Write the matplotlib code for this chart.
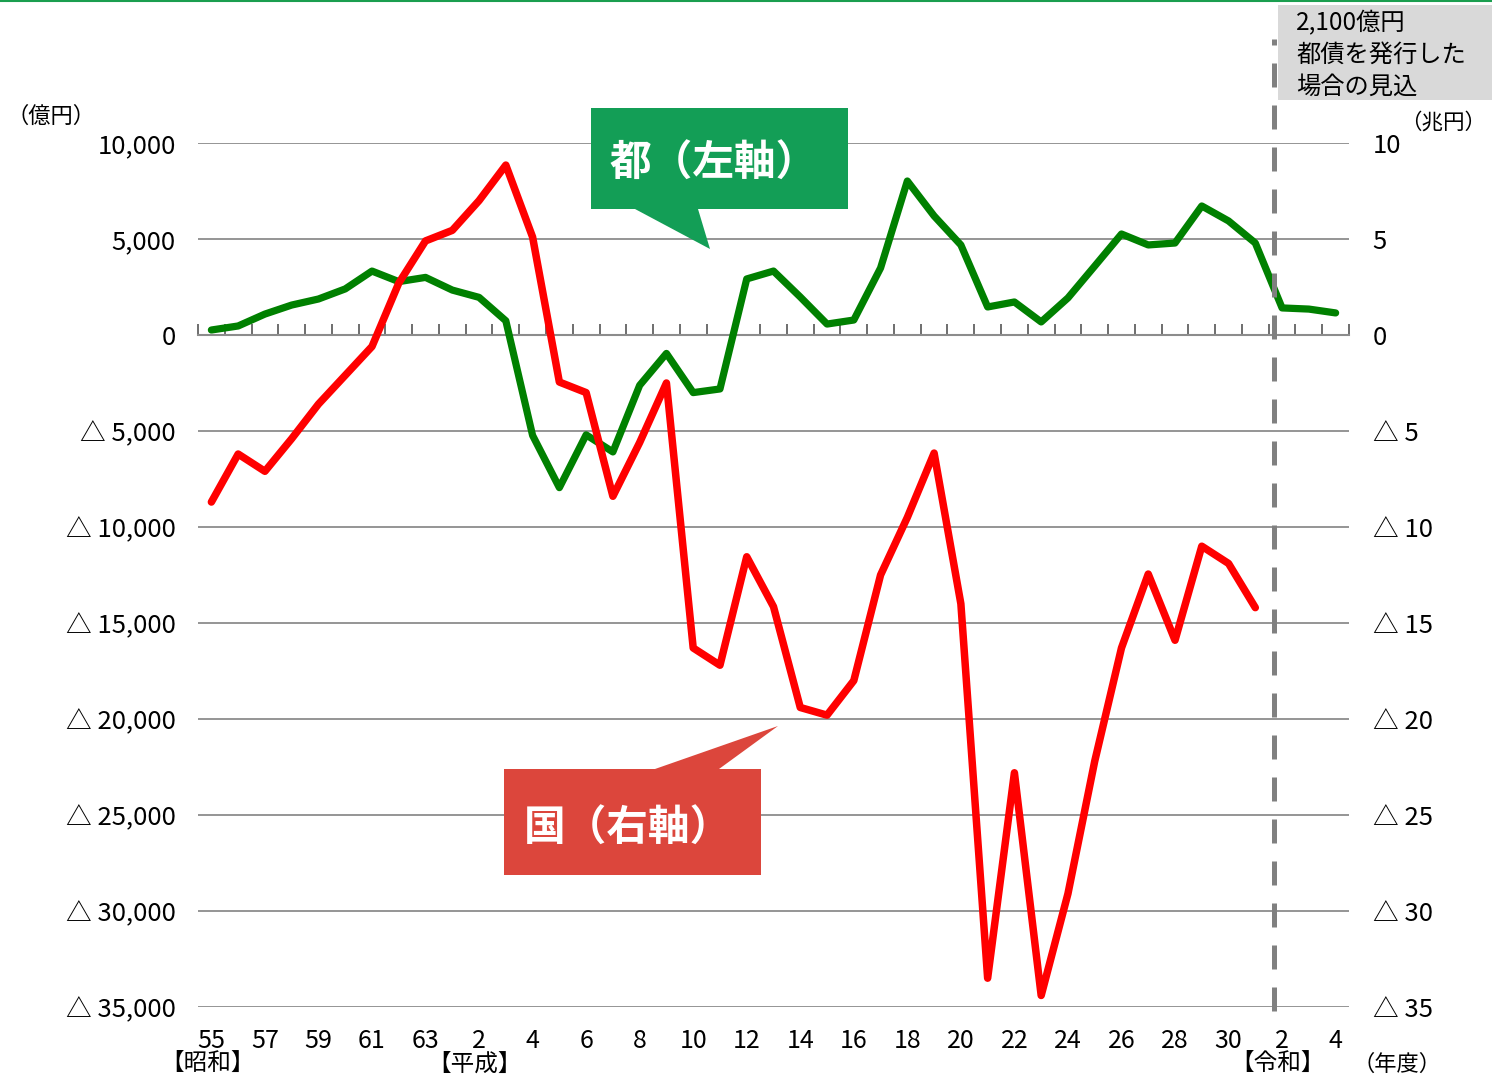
import matplotlib
matplotlib.use("Agg")
import matplotlib.pyplot as plt
import numpy as np
from matplotlib.patches import Polygon, Rectangle
from matplotlib.lines import Line2D
from matplotlib.ticker import NullFormatter

plt.rcParams["font.family"] = ["Noto Sans CJK JP", "DejaVu Sans"]
plt.rcParams["axes.unicode_minus"] = False

W, H = 1492, 1078

# fiscal years S55 .. R4 (43 years), labels every second year
year_labels = ["55", "57", "59", "61", "63", "2", "4", "6", "8",
               "10", "12", "14", "16", "18", "20", "22", "24", "26", "28", "30",
               "2", "4"]
era_labels = ["【昭和】", "【平成】", "【令和】"]
era_start = [0, 10, 40]

# 都 (億円, left axis)
tokyo = [260, 470, 1090, 1560, 1875, 2400, 3330, 2780, 3000, 2340,
         1960, 740, -5230, -7950, -5200, -6090, -2620, -960, -3000, -2810,
         2920, 3330, 1980, 570, 780, 3490, 8020, 6200, 4690, 1460,
         1720, 680, 1930, 3590, 5260, 4690, 4790, 6720, 5940, 4790,
         1410, 1350, 1150]

# 国 (兆円, right axis), up to R1
nation = [-8.7, -6.2, -7.1, -5.4, -3.6, -2.1, -0.6, 2.7, 4.9, 5.45,
          7.0, 8.85, 5.1, -2.45, -3.0, -8.4, -5.6, -2.5, -16.3, -17.2,
          -11.55, -14.15, -19.4, -19.8, -18.0, -12.5, -9.5, -6.15, -14.0, -33.5,
          -22.8, -34.4, -29.1, -22.2, -16.3, -12.45, -15.9, -11.0, -11.9, -14.2]

left_ticks = [10000, 5000, 0, -5000, -10000, -15000, -20000, -25000, -30000, -35000]
left_labels = ["10,000", "5,000", "0", "△ 5,000", "△ 10,000", "△ 15,000",
               "△ 20,000", "△ 25,000", "△ 30,000", "△ 35,000"]
right_ticks = [10, 5, 0, -5, -10, -15, -20, -25, -30, -35]
right_labels = ["10", "5", "0", "△ 5", "△ 10", "△ 15", "△ 20", "△ 25", "△ 30", "△ 35"]


def px(x, y):
    return (x / W, 1 - y / H)


fig = plt.figure(figsize=(W / 100, H / 100), dpi=100)
x0, x1 = px(198, 0)[0], px(1349, 0)[0]
yb, yt = px(0, 1007)[1], px(0, 143)[1]
ax = fig.add_axes([x0, yb, x1 - x0, yt - yb])
ax2 = ax.twinx()

x = np.arange(len(tokyo))
ax.set_xlim(-0.5, len(tokyo) - 0.5)
ax.set_ylim(-35000, 10000)
ax2.set_ylim(-35, 10)

grid_c = "#8c8c8c"
ax.set_yticks(left_ticks)
ax.set_yticklabels(left_labels)
ax.yaxis.grid(True, color=grid_c, lw=1.3)
ax2.set_yticks(right_ticks)
ax2.set_yticklabels(right_labels)

ax.plot(x, tokyo, color="#008000", lw=5.2, solid_joinstyle="round", solid_capstyle="round", zorder=3)
ax2.plot(x[:len(nation)], nation, color="#ff0000", lw=5.4, solid_joinstyle="round", solid_capstyle="round", zorder=3)

for a in (ax, ax2):
    for s in a.spines.values():
        s.set_visible(False)
ax.tick_params(axis="y", length=0, labelsize=18.5, pad=16)
ax2.tick_params(axis="y", length=0, labelsize=18.5, pad=17)

ax.set_xticks(x[::2])
ax.set_xticklabels(year_labels)
ax.tick_params(axis="x", length=0, labelsize=18, pad=15)
for lab, i in zip(era_labels, era_start):
    ax.annotate(lab, xy=(i, 0), xycoords=("data", "axes fraction"),
                xytext=(-3, -41), textcoords="offset points",
                ha="center", va="center", fontsize=17)

# zero line with category-boundary ticks
zero_frac = (0 - (-35000)) / 45000
sec = ax.secondary_xaxis(zero_frac)
sec.set_xticks(np.arange(-0.5, len(tokyo), 1))
sec.xaxis.set_major_formatter(NullFormatter())
sec.tick_params(direction="out", length=8, width=1.2, color="#555555",
                labeltop=False, labelbottom=False)
for s in sec.spines.values():
    s.set_color(grid_c)
    s.set_linewidth(1.5)

# dashed line marking the projection period
ax.plot([39.7, 39.7], [-0.005, 1.12], transform=ax.get_xaxis_transform(),
        color="#808080", lw=3.6, dashes=(4.8, 3.6), clip_on=False, zorder=4)

# unit labels
fig.text(*px(6, 116), "（億円）", fontsize=16, va="center", ha="left")
fig.text(*px(1400, 123), "（兆円）", fontsize=15.5, va="center", ha="left")
fig.text(*px(1353, 1064), "（年度）", fontsize=16, va="center", ha="left")

# projection note box
fig.add_artist(Rectangle(px(1278, 100), 214 / W, 95 / H, transform=fig.transFigure,
                         facecolor="#d9d9d9", edgecolor="none", zorder=5))
fig.text(*px(1296, 55), "2,100億円\n都債を発行した\n場合の見込", fontsize=17.5,
         va="center", ha="left", linespacing=1.28, zorder=6)

# callouts
green_box = [px(591, 108), px(848, 108), px(848, 209), px(698, 209), px(710, 249),
             px(635, 209), px(591, 209)]
red_box = [px(504, 769), px(655, 769), px(778, 726), px(719, 769), px(761, 769),
           px(761, 875), px(504, 875)]
fig.add_artist(Polygon(green_box, closed=True, transform=fig.transFigure,
                       facecolor="#139e56", edgecolor="none", zorder=5))
fig.add_artist(Polygon(red_box, closed=True, transform=fig.transFigure,
                       facecolor="#dc463c", edgecolor="none", zorder=5))
fig.text(*px(610, 164), "都（左軸）", fontsize=30, fontweight="bold", color="white",
         va="center", ha="left", zorder=6)
fig.text(*px(524, 829), "国（右軸）", fontsize=30, fontweight="bold", color="white",
         va="center", ha="left", zorder=6)

# thin green rule along the top edge
fig.add_artist(Line2D([0, 1], [0.999, 0.999], transform=fig.transFigure,
                      color="#1a9e4f", lw=1.5))

fig.savefig("out.png", dpi=100)
